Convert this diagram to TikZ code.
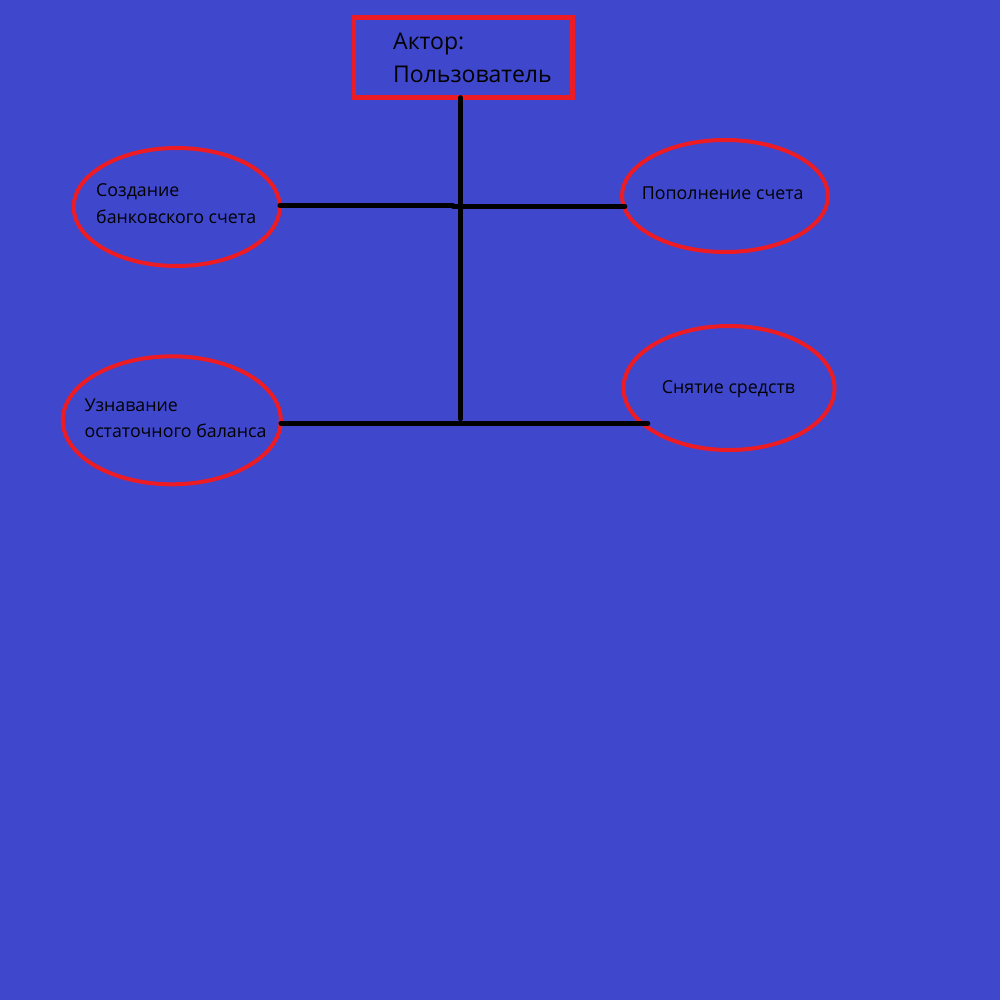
\documentclass[tikz,border=0pt]{standalone}
\usepackage{fontspec}
\setmainfont{Open Sans}
\usetikzlibrary{shapes.geometric}
\definecolor{bg}{HTML}{3F48CC}
\definecolor{usered}{HTML}{ED1C24}
\begin{document}
\begin{tikzpicture}[x=1pt,y=-1pt,
  usecase/.style={ellipse, draw=usered, line width=4pt, inner sep=0pt, outer sep=0pt},
  actorbox/.style={draw=usered, line width=4.5pt, inner sep=0pt, outer sep=0pt},
  caption/.style={anchor=base west, inner sep=0pt, text=black, font=\fontsize{17.8}{26}\selectfont},
  bigcaption/.style={caption, font=\fontsize{23}{33}\selectfont},
  wire/.style={line width=4.5pt, black, line cap=round}]
% canvas
\fill[bg] (0,0) rectangle (1000,1000);
\useasboundingbox (0,0) rectangle (1000,1000);

% actor
\node[actorbox, minimum width=218.5pt, minimum height=80pt] (actor) at (463.25,57.5) {};
\node[bigcaption] (actor1) at (393,50) {Актор:};
\node[bigcaption] (actor2) at (393,83) {Пользователь};

% use cases
\node[usecase, minimum width=206pt, minimum height=118pt] (create) at (176.7,207) {};
\node[caption] (create1) at (96,197) {Создание};
\node[caption] (create2) at (96,223) {банковского счета};

\node[usecase, minimum width=206pt, minimum height=112pt] (deposit) at (725,196) {};
\node[caption] (deposit1) at (641.7,200) {Пополнение счета};

\node[usecase, minimum width=218pt, minimum height=128pt] (balance) at (171.8,420.3) {};
\node[caption] (balance1) at (84.3,411.7) {Узнавание};
\node[caption] (balance2) at (84.3,437.7) {остаточного баланса};

\node[usecase, minimum width=211pt, minimum height=124pt] (withdraw) at (729,388) {};
\node[caption] (withdraw1) at (661.7,393.3) {Снятие средств};

% junctions on the trunk
\coordinate (trunkend) at (460.5,419);
\coordinate (topjoin) at (453,205.5);
\coordinate (topjoinb) at (453,206.5);
\coordinate (depositend) at (625,206.5);
\coordinate (withdrawend) at (648,423.3);

% connectors
\draw[wire] (actor.south -| trunkend) -- (trunkend);
\draw[wire] (create.east |- topjoin) -- (topjoin);
\draw[wire] (topjoinb) -- (depositend);
\draw[wire] (balance.east |- withdrawend) -- (withdrawend);
\end{tikzpicture}
\end{document}
